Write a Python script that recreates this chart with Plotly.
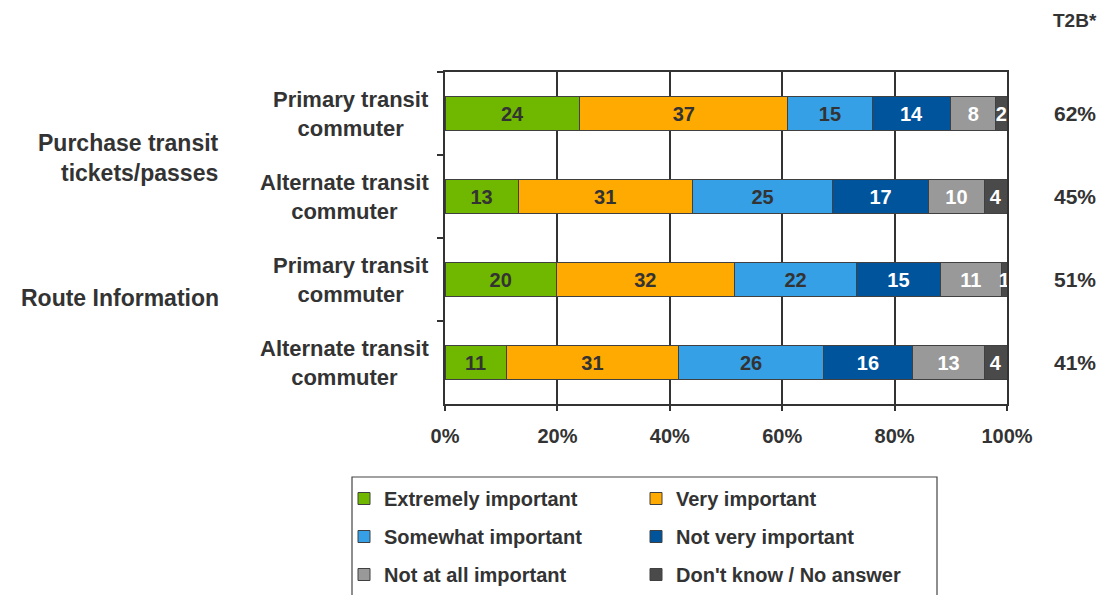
import plotly.graph_objects as go

# ---- data ----
row_ids = ["P_primary", "P_alternate", "R_primary", "R_alternate"]
row_labels = ["Primary transit<br>commuter", "Alternate transit<br>commuter",
              "Primary transit<br>commuter", "Alternate transit<br>commuter"]
group_labels = ["Purchase transit<br>tickets/passes", "Route Information"]
series_names = ["Extremely important", "Very important", "Somewhat important",
                "Not very important", "Not at all important", "Don't know / No answer"]
extremely = [24, 13, 20, 11]
very = [37, 31, 32, 31]
somewhat = [15, 25, 22, 26]
not_very = [14, 17, 15, 16]
not_at_all = [8, 10, 11, 13]
dont_know = [2, 4, 1, 4]
t2b = ["62%", "45%", "51%", "41%"]
x_ticks = [0, 20, 40, 60, 80, 100]
x_tick_text = ["0%", "20%", "40%", "60%", "80%", "100%"]

colors = ["#70B800", "#FFAA00", "#36A0E6", "#00549C", "#999999", "#4A4A4A"]
text_colors = ["#333333", "#333333", "#333333", "#FFFFFF", "#FFFFFF", "#FFFFFF"]
values = [extremely, very, somewhat, not_very, not_at_all, dont_know]
FONT = "Liberation Sans, Arial, sans-serif"
DARK = "#333333"

def f(size, color=DARK):
    return dict(family=FONT, size=size, color=color, weight="bold")

fig = go.Figure()
for i, (name, vals) in enumerate(zip(series_names, values)):
    fig.add_trace(go.Bar(
        y=row_ids, x=vals, name=name, orientation="h",
        marker=dict(color=colors[i], line=dict(color="#404040", width=1)),
        text=vals, textposition="inside", insidetextanchor="middle", textangle=0,
        textfont=f(20, text_colors[i]), cliponaxis=False,
        legend="legend" if i % 2 == 0 else "legend2",
        legendgroup=name, hoverinfo="skip",
    ))

# page has an 8px body offset: figure coords = page coords - 8
OFF = 8
W, H = 1111 - OFF, 595 - OFF
L, T = 445 - OFF, 72 - OFF
R = W - (1007 - OFF)
B = H - (404 - OFF)
pw, ph = W - L - R, H - T - B

def px_x(x):
    return (x - OFF - L) / pw

def px_y(y):
    return (H - B - (y - OFF)) / ph

annotations = []
for rid, lab in zip(row_ids, row_labels):
    annotations.append(dict(x=px_x(431), xref="paper", y=rid, yref="y", text=lab,
                            xanchor="right", yanchor="middle", align="center", showarrow=False,
                            font=f(22)))
for rid, v in zip(row_ids, t2b):
    annotations.append(dict(x=px_x(1075), xref="paper", y=rid, yref="y", text=v,
                            xanchor="center", yanchor="middle", showarrow=False,
                            font=f(21)))
annotations.append(dict(x=px_x(1075), xref="paper", y=px_y(20), yref="paper", text="T2B*",
                        xanchor="center", yanchor="middle", showarrow=False,
                        font=f(19)))
annotations.append(dict(x=px_x(221), xref="paper", y=px_y(158), yref="paper", text=group_labels[0],
                        xanchor="right", yanchor="middle", align="right", showarrow=False,
                        font=f(23)))
annotations.append(dict(x=px_x(221), xref="paper", y=px_y(298), yref="paper", text=group_labels[1],
                        xanchor="right", yanchor="middle", align="right", showarrow=False,
                        font=f(23)))

fig.update_layout(
    width=W, height=H,
    margin=dict(l=L, r=R, t=T, b=B, autoexpand=False),
    paper_bgcolor="white", plot_bgcolor="white",
    barmode="stack", barnorm="percent", bargap=0.6,
    showlegend=True,
    legend=dict(x=px_x(344), y=px_y(479), xanchor="left", yanchor="top",
                orientation="v", tracegroupgap=9, bgcolor="rgba(0,0,0,0)",
                font=f(20), traceorder="grouped"),
    legend2=dict(x=px_x(636), y=px_y(479), xanchor="left", yanchor="top",
                 orientation="v", tracegroupgap=9, bgcolor="rgba(0,0,0,0)",
                 font=f(20), traceorder="grouped"),
    uniformtext=dict(minsize=20, mode="show"),
    annotations=annotations,
    shapes=[dict(type="rect", xref="paper", yref="paper",
                 x0=px_x(352), x1=px_x(937), y0=px_y(477), y1=px_y(640),
                 line=dict(color="#444444", width=1.2), fillcolor="rgba(0,0,0,0)")],
)
fig.update_xaxes(range=[0, 100], tickvals=x_ticks, ticktext=x_tick_text,
                 showgrid=True, gridcolor="#333333", gridwidth=1.5,
                 showline=True, linecolor="#333333", linewidth=1.5, mirror=True,
                 ticks="outside", ticklen=5, tickcolor="#333333", tickwidth=1.5,
                 ticklabelstandoff=8,
                 tickfont=f(20), zeroline=False)
fig.update_yaxes(categoryorder="array", categoryarray=row_ids, autorange="reversed",
                 showticklabels=False, tickson="boundaries", ticks="outside", ticklen=6,
                 tickcolor="#333333", tickwidth=1.5,
                 showline=True, linecolor="#333333", linewidth=1.5, mirror=True,
                 showgrid=False)

fig.write_html("out.html")
